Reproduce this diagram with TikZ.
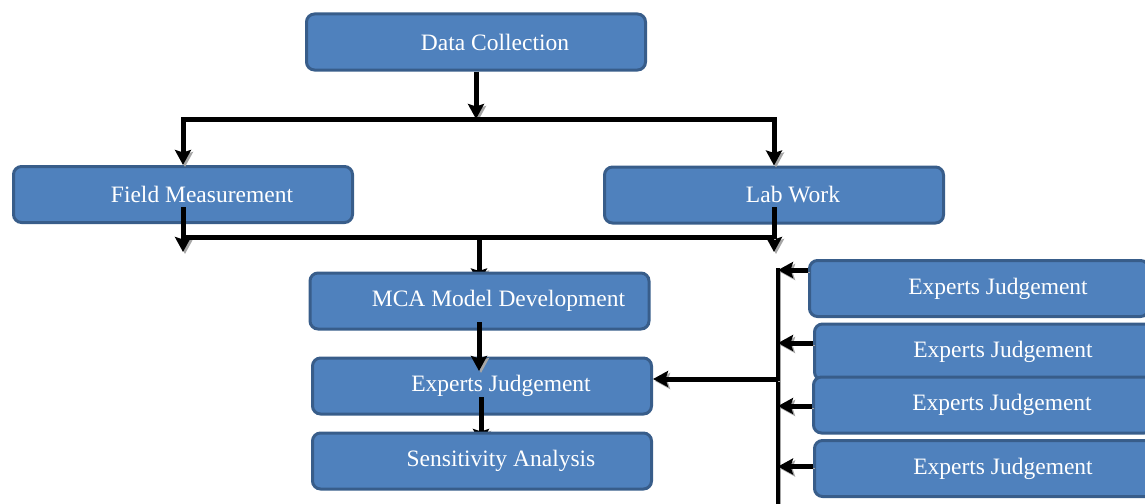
\documentclass[tikz,border=0pt]{standalone}
\usepackage{fontspec}
\setmainfont{Liberation Serif}
\usetikzlibrary{arrows.meta,backgrounds}
\definecolor{boxfill}{RGB}{79,129,189}
\definecolor{boxline}{RGB}{56,93,138}

\begin{document}
\begin{tikzpicture}[x=1pt,y=-1pt,>={Stealth[length=15pt,width=16pt,inset=2.5pt]}]
\tikzstyle{block} = [rectangle, draw=boxline, line width=3pt, fill=boxfill,
rounded corners=8pt, minimum width=339pt, minimum height=56pt, text=white,
font=\fontsize{23.5}{28}\selectfont, execute at begin node={\hspace*{38pt}}]
\tikzstyle{line} = [draw, line width=5pt, black,
preaction={draw=black!35, transform canvas={shift={(2pt,-2pt)}}}];
\useasboundingbox (0,0) rectangle (1145,503);

% left column
\node [block] (collect) at (476,42) {Data Collection};
\node [block] (field) at (183,194.5) {Field Measurement};
\node [block] (lab) at (774,195) {Lab Work};
\node [block] (model) at (479.5,301) {MCA Model Development};
\node [block] (judge) at (482,386) {Experts Judgement};
% right column
\node [block] (judge1) at (979,288.5) {Experts Judgement};
\node [block] (judge2) at (984,352) {Experts Judgement};
\node [block] (judge3) at (983,405) {Experts Judgement};
\node [block] (judge4) at (984,468.5) {Experts Judgement};

\coordinate (topbus) at (476,119);
\coordinate (midbus) at (479,237);
\coordinate (spinetop) at (778,268);
\coordinate (spinebot) at (778,510);
\coordinate (branch) at (778,379);

\path [line,->] (collect.south) -- (topbus);
\path [line,<->] (field.north) -- (field.north |- topbus) -- (lab.north |- topbus) -- (lab.north);
\path [line,->] (183,207) -- (183,252);
\path [line,->] (774,207) -- (774,252);
\path [line] (field.south |- midbus) -- (lab.south |- midbus);
\begin{pgfonlayer}{background}
\path [line,->] (midbus) -- ([yshift=-12pt]model.north -| midbus);
\end{pgfonlayer}
\path [line,->] (479,322) -- (479,371);
% tip hidden under the last box
\path [line,->] (481,397) -- (481,444);
\node [block] (sens) at (482,461) {Sensitivity Analysis};

\path [line,line width=4pt] (spinetop) -- (spinebot);
\path [line,->] (judge1.west |- 0,270) -- (spinetop |- 0,270);
\foreach \b/\s in {judge2/9,judge3/-1,judge4/2}
  \path [line,->] ([yshift=\s pt]\b.west) -- ([yshift=\s pt]\b.west -| spinetop);
\path [line,->] (branch) -- (branch -| judge.east);
\end{tikzpicture}
\end{document}
